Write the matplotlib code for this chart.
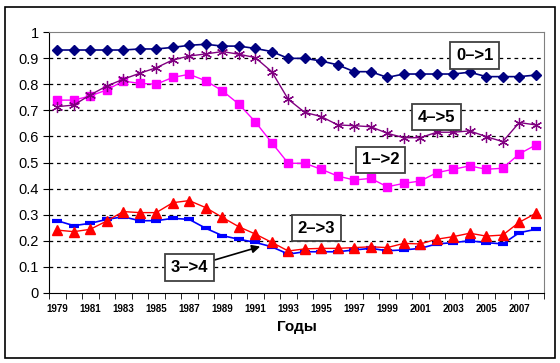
import numpy as np
import matplotlib.pyplot as plt
from matplotlib.patches import Rectangle

plt.rcParams['font.family'] = ['Liberation Sans', 'DejaVu Sans']

years = list(range(1979, 2009))

# transition shares by year
s01 = [0.931, 0.931, 0.931, 0.931, 0.931, 0.935, 0.935, 0.941, 0.949, 0.953,
       0.946, 0.946, 0.937, 0.925, 0.899, 0.899, 0.889, 0.874, 0.848, 0.848,
       0.826, 0.839, 0.839, 0.839, 0.839, 0.846, 0.829, 0.829, 0.829, 0.835]
s45 = [0.714, 0.720, 0.759, 0.793, 0.819, 0.842, 0.863, 0.893, 0.908, 0.916,
       0.925, 0.915, 0.902, 0.848, 0.742, 0.692, 0.676, 0.644, 0.641, 0.637,
       0.612, 0.595, 0.595, 0.616, 0.616, 0.621, 0.599, 0.580, 0.653, 0.644]
s12 = [0.739, 0.739, 0.755, 0.778, 0.812, 0.803, 0.800, 0.826, 0.838, 0.813,
       0.775, 0.724, 0.656, 0.576, 0.497, 0.497, 0.474, 0.448, 0.433, 0.439,
       0.407, 0.420, 0.429, 0.461, 0.474, 0.487, 0.474, 0.478, 0.533, 0.567]
s23 = [0.241, 0.235, 0.244, 0.276, 0.312, 0.308, 0.308, 0.346, 0.354, 0.327,
       0.290, 0.254, 0.226, 0.194, 0.161, 0.169, 0.171, 0.171, 0.174, 0.177,
       0.174, 0.190, 0.188, 0.206, 0.216, 0.229, 0.218, 0.222, 0.271, 0.305]
s34 = [0.277, 0.258, 0.267, 0.282, 0.292, 0.277, 0.277, 0.286, 0.282, 0.248,
       0.220, 0.206, 0.194, 0.177, 0.149, 0.158, 0.158, 0.158, 0.165, 0.171,
       0.162, 0.165, 0.171, 0.188, 0.193, 0.200, 0.193, 0.188, 0.231, 0.244]

fig = plt.figure(figsize=(5.6, 3.63), dpi=100)
ax = fig.add_axes([49/560, 70/363, 495/560, 261/363])

x = np.arange(len(years))
ax.plot(x, s34, color='#0000FF', lw=1.2, marker='_', ms=7, mew=3, zorder=3)
ax.plot(x, s23, color='#FF0000', lw=1, marker='^', ms=7, zorder=4)
ax.plot(x, s12, color='#FF00FF', lw=1, marker='s', ms=6, zorder=3)
ax.plot(x, s45, color='#800080', lw=1, marker=(6, 2, 0), ms=8, mew=0.9, zorder=3)
ax.plot(x, s01, color='#000080', lw=1.2, marker='D', ms=5.5, zorder=3)

ax.set_xlim(-0.5, len(years) - 0.5)
ax.set_ylim(0, 1)
ax.set_yticks(np.arange(0, 1.01, 0.1))
ax.set_yticklabels(['0'] + ['%.1f' % v for v in np.arange(0.1, 0.95, 0.1)] + ['1'])
for v in np.arange(0.1, 0.95, 0.1):
    ax.axhline(v, color='black', lw=0.9, ls=(0, (3, 3)), zorder=1)

ax.set_xticks(x[::2])
ax.set_xticklabels([str(y) for y in years[::2]], fontsize=7, fontweight='bold')
ax.set_xticks(np.arange(-0.5, len(years), 1), minor=True)
ax.tick_params(axis='x', which='major', length=0, pad=8)
ax.tick_params(axis='x', which='minor', length=4, direction='out')
ax.tick_params(axis='y', length=4, direction='out', labelsize=10.5)

ax.spines['top'].set_color('#808080')
ax.spines['right'].set_color('#808080')
ax.spines['left'].set_color('black')
ax.spines['bottom'].set_color('black')

ax.set_xlabel('Годы', fontsize=11, fontweight='bold', labelpad=4)

box = dict(boxstyle='square,pad=0.35', fc='white', ec='#404040', lw=1.3)
ax.text(25.3, 0.91, '0–>1', fontsize=12, fontweight='bold', ha='center', va='center', bbox=box, zorder=5)
ax.text(23.0, 0.674, '4–>5', fontsize=12, fontweight='bold', ha='center', va='center', bbox=box, zorder=5)
ax.text(19.6, 0.51, '1–>2', fontsize=12, fontweight='bold', ha='center', va='center', bbox=box, zorder=5)
ax.text(15.7, 0.249, '2–>3', fontsize=12, fontweight='bold', ha='center', va='center', bbox=box, zorder=5)
ax.annotate('3–>4', xy=(12.3, 0.178), xytext=(8.0, 0.098), fontsize=12, fontweight='bold',
            ha='center', va='center', bbox=box, zorder=5,
            arrowprops=dict(arrowstyle='-|>', color='black', lw=1.2, shrinkA=0, shrinkB=0))

fig.patches.append(Rectangle((5/560, 5/363), 550/560, 351/363, transform=fig.transFigure,
                             fill=False, ec='black', lw=1.2))

fig.savefig('out.png', dpi=100)
